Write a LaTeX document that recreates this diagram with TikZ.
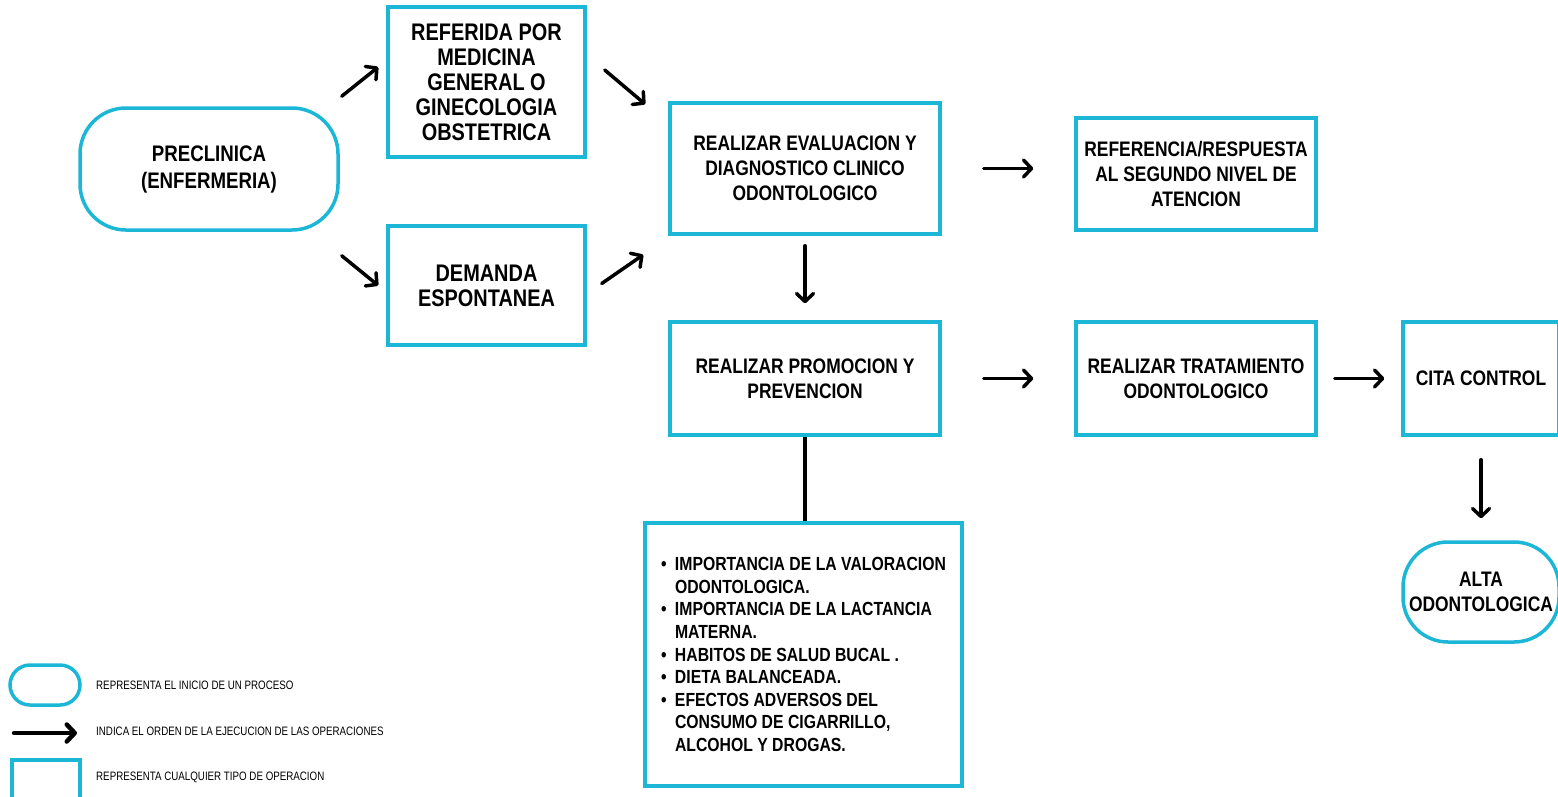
\documentclass[tikz,border=0pt]{standalone}
\usepackage{fontspec}
\setmainfont{Liberation Sans}[FakeStretch=0.83]
\newfontfamily\leyendafont{Liberation Sans}[FakeStretch=0.8]
\usepackage{tikz}
\usetikzlibrary{arrows.meta}
\definecolor{celeste}{RGB}{28,183,215}
\tikzset{
    caja/.style={shape=rectangle, draw=celeste, line width=3.5pt, inner sep=0pt,
        align=center, font=\fontsize{21}{25}\selectfont\bfseries},
    cajagrande/.style={caja, font=\fontsize{24}{25}\selectfont\bfseries},
    redonda/.style={caja, rounded corners=46pt},
    flecha/.style={line width=3.5pt, line cap=round,
        -{Straight Barb[length=8pt, width=17pt, line cap=round, line join=round]}},
    leyenda/.style={anchor=west, inner sep=0pt, font=\fontsize{12.2}{14}\selectfont\leyendafont}}

\begin{document}
\begin{tikzpicture}[x=1pt, y=-1pt]

            \useasboundingbox (0,0) rectangle (1558,796);
            \clip (0,0) rectangle (1558,796);

            \node[redonda, minimum width=258pt, minimum height=122pt, font=\fontsize{22.5}{27}\selectfont\bfseries] (pre) at (209,169) {PRECLINICA\\(ENFERMERIA)};
            \node[cajagrande, minimum width=197pt, minimum height=150pt] (ref) at (486.5,82) {REFERIDA POR\\MEDICINA\\GENERAL O\\GINECOLOGIA\\OBSTETRICA};
            \node[cajagrande, minimum width=197pt, minimum height=119pt] (dem) at (486.5,285.5) {DEMANDA\\ESPONTANEA};
            \node[caja, minimum width=270pt, minimum height=131pt] (eval) at (805,168.5) {REALIZAR EVALUACION Y\\DIAGNOSTICO CLINICO\\ODONTOLOGICO};
            \node[caja, minimum width=240pt, minimum height=112pt] (refr) at (1196,174) {REFERENCIA/RESPUESTA\\AL SEGUNDO NIVEL DE\\ATENCION};
            \node[caja, minimum width=270pt, minimum height=113pt] (promo) at (805,378.5) {REALIZAR PROMOCION Y\\PREVENCION};
            \node[caja, minimum width=240pt, minimum height=113pt] (trat) at (1196,378.5) {REALIZAR TRATAMIENTO\\ODONTOLOGICO};
            \node[caja, minimum width=156pt, minimum height=113pt] (cita) at (1481,378.5) {CITA CONTROL};
            \node[redonda, rounded corners=45pt, minimum width=156pt, minimum height=100pt] (alta) at (1481,592) {ALTA\\ODONTOLOGICA};
            \node[caja, align=left, minimum width=317pt, minimum height=263pt, font=\fontsize{19}{22.6}\selectfont\bfseries] (temas) at (803.5,654.5)
                {\makebox[14pt][l]{\textbullet}IMPORTANCIA DE LA VALORACION\\
                 \hspace*{14pt}ODONTOLOGICA.\\
                 \makebox[14pt][l]{\textbullet}IMPORTANCIA DE LA LACTANCIA\\
                 \hspace*{14pt}MATERNA.\\
                 \makebox[14pt][l]{\textbullet}HABITOS DE SALUD BUCAL .\\
                 \makebox[14pt][l]{\textbullet}DIETA BALANCEADA.\\
                 \makebox[14pt][l]{\textbullet}EFECTOS ADVERSOS DEL\\
                 \hspace*{14pt}CONSUMO DE CIGARRILLO,\\
                 \hspace*{14pt}ALCOHOL Y DROGAS.};

            \draw[flecha] ([shift={(2,-10)}]pre.north east) -- ([shift={(-8,-15)}]ref.west);
            \draw[flecha] ([shift={(2,24)}]pre.south east) -- ([shift={(-8,0)}]dem.west);
            \draw[flecha] ([shift={(18,-12)}]ref.east) -- ([shift={(-23,3)}]eval.north west);
            \draw[flecha] ([shift={(15,-2)}]dem.east) -- ([shift={(-25,19)}]eval.south west);
            \draw[flecha, shorten <=10pt, shorten >=17pt] (eval.south) -- (promo.north);
            \draw[flecha, shorten <=42pt, shorten >=41pt] (eval.east) -- (eval.east -| refr.west);
            \draw[flecha, shorten <=42pt, shorten >=41pt] (promo.east) -- (trat.west);
            \draw[flecha, shorten <=17pt, shorten >=17pt] (trat.east) -- (cita.west);
            \draw[flecha, shorten <=23pt, shorten >=22pt] (cita.south) -- (alta.north);
            \draw[line width=3.5pt] (promo.south) -- (promo.south |- temas.north);

            \node[redonda, rounded corners=20pt, minimum width=70pt, minimum height=40pt] (leyInicio) at (45,685) {};
            \coordinate (leyA) at (14,733);
            \coordinate (leyB) at (77,733);
            \draw[flecha, line width=4.5pt] (leyA) -- (leyB);
            \node[caja, minimum width=68pt, minimum height=40pt] (leyCaja) at (46,780) {};
            \node[leyenda] (txtInicio) at (96,685) {REPRESENTA EL INICIO DE UN PROCESO};
            \node[leyenda] (txtOrden) at (96,731) {INDICA EL ORDEN DE LA EJECUCION DE LAS OPERACIONES};
            \node[leyenda] (txtCaja) at (96,777) {REPRESENTA CUALQUIER TIPO DE OPERACION};

        \end{tikzpicture}
\end{document}
